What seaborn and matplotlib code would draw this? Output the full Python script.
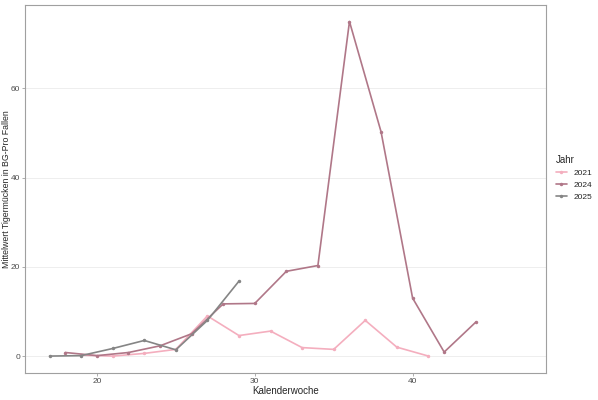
import pandas as pd
import seaborn as sns
import matplotlib.pyplot as plt

# Kalenderwoche / Mittelwert pro Jahr
kw_2021 = [19, 21, 23, 25, 27, 29, 31, 33, 35, 37, 39, 41]
val_2021 = [0.2, 0.0, 0.6, 1.5, 9.0, 4.6, 5.6, 1.9, 1.5, 8.0, 2.0, 0.0]

kw_2024 = [18, 20, 22, 24, 26, 28, 30, 32, 34, 36, 38, 40, 42, 44]
val_2024 = [0.8, 0.1, 0.8, 2.3, 5.0, 11.7, 11.8, 19.0, 20.3, 75.0, 50.3, 13.0, 0.9, 7.6]

kw_2025 = [17, 19, 21, 23, 25, 27, 29]
val_2025 = [0.0, 0.1, 1.7, 3.5, 1.4, 8.0, 16.8]

jahre = ["2021", "2024", "2025"]
farben = ["#F4AEBE", "#B07788", "#858585"]

df = pd.concat([
    pd.DataFrame({"kw": kw_2021, "wert": val_2021, "Jahr": "2021"}),
    pd.DataFrame({"kw": kw_2024, "wert": val_2024, "Jahr": "2024"}),
    pd.DataFrame({"kw": kw_2025, "wert": val_2025, "Jahr": "2025"}),
])

sns.set_style("white")
plt.rcParams['font.family'] = ['Liberation Sans', 'DejaVu Sans']

fig = plt.figure(figsize=(5.98, 4.0), dpi=100)
ax = fig.add_axes([0.042, 0.068, 0.871, 0.92])

sns.lineplot(data=df, x="kw", y="wert", hue="Jahr", hue_order=jahre,
             palette=farben, marker="o", markersize=2.5, markeredgewidth=0,
             linewidth=1.2, ax=ax)

ax.set_xlim(15.45, 48.45)
ax.set_ylim(-3.75, 78.75)
ax.set_xticks([20, 30, 40])
ax.set_yticks([0, 20, 40, 60])
ax.grid(axis="y", color="#EBEBEB", linewidth=0.6)
ax.grid(axis="x", visible=False)
ax.set_axisbelow(True)
for s in ax.spines.values():
    s.set_color("#A0A0A0")
    s.set_linewidth(0.8)
ax.tick_params(axis="both", labelsize=6, labelcolor="#4D4D4D", length=2,
               color="#A0A0A0", width=0.6, direction="out", bottom=True, left=True, pad=1.5)
ax.set_xlabel("Kalenderwoche", fontsize=7, labelpad=1)
ax.set_ylabel("Mittelwert Tigermücken in BG-Pro Fallen", fontsize=6.3)
ax.yaxis.set_label_coords(-0.028, 0.5)

leg = ax.legend(title="Jahr", loc="center left", bbox_to_anchor=(1.005, 0.53),
                frameon=False, fontsize=6, title_fontsize=7,
                handlelength=1.3, labelspacing=0.5, alignment="left")

fig.savefig("out.png", dpi=100)
